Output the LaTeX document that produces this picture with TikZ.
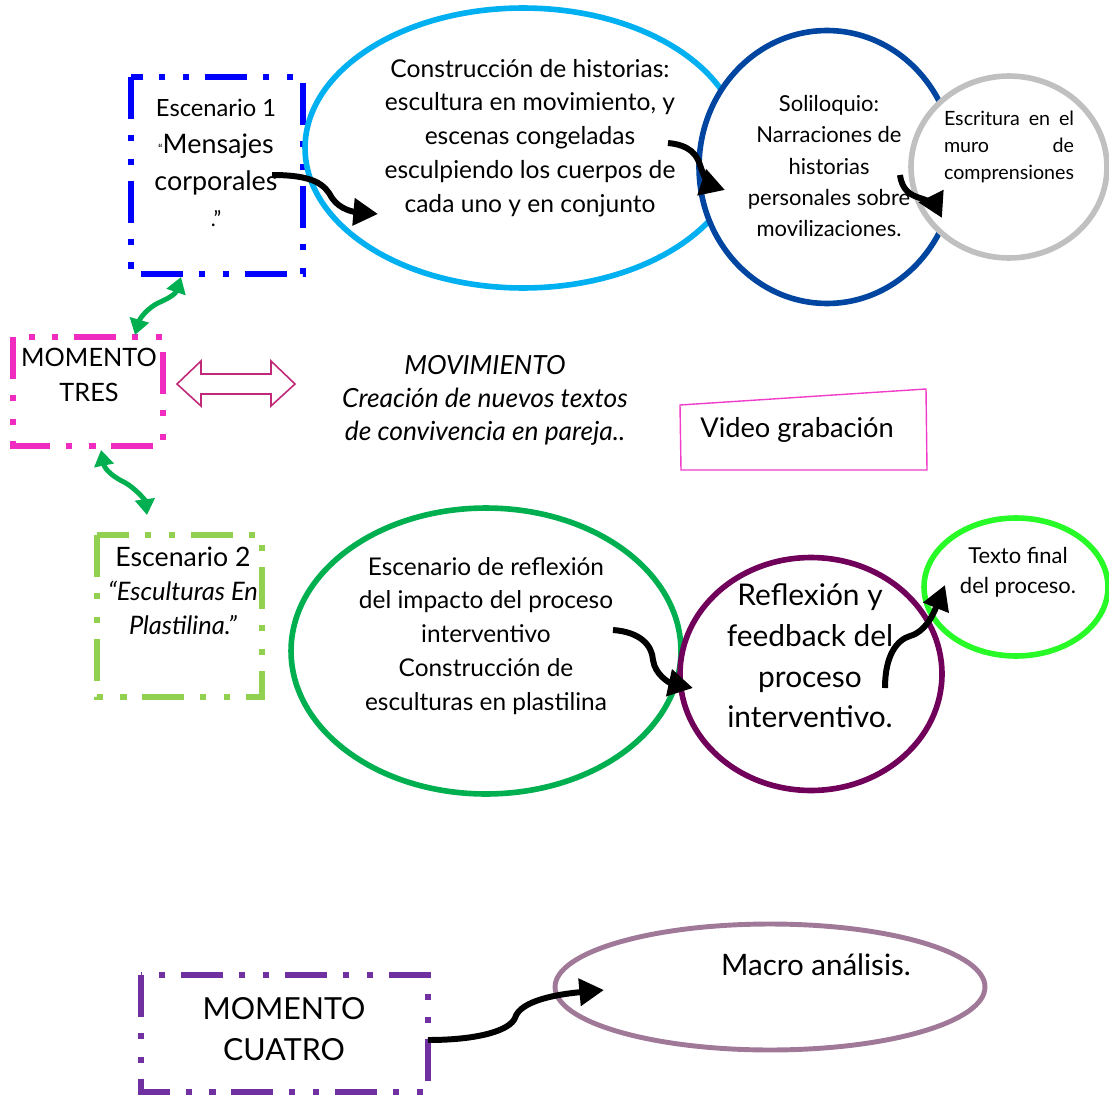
\documentclass[tikz,border=0pt]{standalone}
\usepackage{fontspec}
\setmainfont{Lato}
\usetikzlibrary{shapes.geometric,arrows.meta}

\definecolor{boxblue}{RGB}{0,0,255}
\definecolor{skyline}{RGB}{0,176,240}
\definecolor{deepblue}{RGB}{0,70,160}
\definecolor{ringgray}{RGB}{192,192,192}
\definecolor{boxpink}{RGB}{240,44,192}
\definecolor{linkrose}{RGB}{192,40,120}
\definecolor{arrowgreen}{RGB}{0,176,80}
\definecolor{boxlime}{RGB}{146,208,80}
\definecolor{ringgreen}{RGB}{0,176,80}
\definecolor{ringplum}{RGB}{112,0,90}
\definecolor{ringneon}{RGB}{40,250,40}
\definecolor{boxpurple}{RGB}{112,48,160}
\definecolor{ringmauve}{RGB}{160,120,152}
\definecolor{videopink}{RGB}{240,60,200}

\begin{document}
\begin{tikzpicture}[x=0.02cm,y=-0.02cm,
    dashbox/.style={draw=#1, line width=3.4pt, dash pattern=on 24pt off 9pt on 3.5pt off 10pt on 3.5pt off 9pt},
    ring/.style={draw=#1, line width=3.2pt, ellipse, fill=white, inner sep=0pt},
    txt/.style={align=center, inner sep=0pt},
    flow/.style={-{Triangle[length=14pt,width=15pt]}, line width=3.4pt},
    swing/.style={{Triangle[length=9pt,width=11pt]}-{Triangle[length=9pt,width=11pt]}, line width=2.8pt, draw=arrowgreen}]
  \useasboundingbox (0,0) rectangle (1109,1095);

  % boxes
  \draw[dashbox=boxblue] (131,77) rectangle (303,274);
  \draw[dashbox=boxpink] (13,337) rectangle (163,446);
  \draw[dashbox=boxlime] (97,535) rectangle (262,697);
  \draw[dashbox=boxpurple] (141,975) rectangle (428,1092);
  \draw[videopink, line width=0.8pt] (680,405) -- (926,389) -- (927,470) -- (681,470) -- cycle;

  % rings
  \node[ring=skyline, minimum width=8.72cm, minimum height=5.6cm] (historiasring) at (523,148) {};
  \node[ring=deepblue, minimum width=5.12cm, minimum height=5.46cm] (soliloquioring) at (827,167) {};
  \node[ring=ringgray, minimum width=3.92cm, minimum height=3.64cm] (muroring) at (1009,167) {};
  \node[ring=ringgreen, minimum width=7.8cm, minimum height=5.72cm] (reflexionring) at (486,651) {};
  \node[ring=ringplum, minimum width=5.24cm, minimum height=4.66cm] (feedbackring) at (811,674) {};
  \node[ring=ringneon, minimum width=3.68cm, minimum height=2.76cm] (finalring) at (1016,587) {};
  \node[ring=ringmauve, minimum width=8.6cm, minimum height=2.52cm, line width=2.8pt] (macroring) at (770,987) {};

  % double arrow
  \draw[linkrose, line width=0.9pt, fill=white] (177,384) -- (201,361) -- (201,374) -- (271,374) -- (271,361)
     -- (295,384) -- (271,406) -- (271,394) -- (201,394) -- (201,406) -- cycle;

  % texts
  \node[txt, font=\fontsize{13.5}{21}\selectfont] (esc1) at (216,163)
     {Escenario 1\\{\fontsize{15.3}{21}\selectfont{\scriptsize``}Mensajes}\\{\fontsize{15.3}{21}\selectfont corporales}\\{\fontsize{12}{21}\selectfont .''}};
  \node[txt, font=\fontsize{14}{19.3}\selectfont] (historias) at (530,138)
     {Construcción de historias:\\escultura en movimiento, y\\escenas congeladas\\esculpiendo los cuerpos de\\cada uno y en conjunto};
  \node[txt, font=\fontsize{12.5}{17.7}\selectfont] (soliloquio) at (829,166)
     {Soliloquio:\\Narraciones de\\historias\\personales sobre\\movilizaciones.};
  \node[txt, align=left, text width=74pt, font=\fontsize{11.2}{15.3}\selectfont] (muro) at (1009,147)
     {Escritura\hfill en\hfill el\\muro\hfill de\\comprensiones};
  \node[txt, font=\fontsize{14.4}{20}\selectfont] (tres) at (89,375) {MOMENTO\\TRES};
  \node[txt, font=\itshape\fontsize{15}{18.7}\selectfont] (movimiento) at (485,400)
     {MOVIMIENTO\\Creación de nuevos textos\\de convivencia en pareja..};
  \node[txt, font=\fontsize{15.5}{20}\selectfont] (video) at (797,430) {Video grabación};
  \node[txt, font=\fontsize{15.2}{19.5}\selectfont] (esc2) at (183,591)
     {Escenario 2\\{\itshape\fontsize{14.5}{19.5}\selectfont ``Esculturas En}\\{\itshape\fontsize{14.5}{19.5}\selectfont Plastilina.''}};
  \node[txt, font=\fontsize{13.9}{19.3}\selectfont] (reflexion) at (486,636)
     {Escenario de reflexión\\del impacto del proceso\\interventivo\\Construcción de\\esculturas en plastilina};
  \node[txt, font=\fontsize{17}{23.2}\selectfont] (feedback) at (810,656)
     {Reflexión y\\feedback del\\proceso\\interventivo.};
  \node[txt, font=\fontsize{12.5}{17}\selectfont] (textofinal) at (1018,572) {Texto final\\del proceso.};
  \node[txt, font=\fontsize{16.8}{20}\selectfont] (macro) at (816,965) {Macro análisis.};
  \node[txt, font=\fontsize{17.3}{23.2}\selectfont] (cuatro) at (284,1029) {MOMENTO\\CUATRO};

  % connector ends
  \coordinate (e1a) at (272,175);
  \coordinate (e1b) at (378,214);
  \coordinate (h1a) at (668,143);
  \coordinate (h1b) at (725,190);
  \coordinate (s1a) at (900,175);
  \coordinate (s1b) at (942,218);
  \coordinate (r1a) at (613,630);
  \coordinate (r1b) at (693,688);
  \coordinate (f1a) at (885,688);
  \coordinate (f1b) at (945,585);
  \coordinate (c1a) at (428,1040);
  \coordinate (c1b) at (604,990);
  \coordinate (g1a) at (181,277);
  \coordinate (g1b) at (135,335);
  \coordinate (g2a) at (101,450);
  \coordinate (g2b) at (147,515);

  % arrows
  \draw[flow] (e1a) .. controls (315,175) and (325,185) .. (332,198) .. controls (340,210) and (355,212) .. (e1b);
  \draw[flow] (h1a) .. controls (690,145) and (697,155) .. (700,165) .. controls (704,178) and (710,185) .. (h1b);
  \draw[flow] (s1a) .. controls (902,190) and (910,195) .. (920,198) .. controls (930,201) and (936,206) .. (s1b);
  \draw[flow] (r1a) .. controls (640,632) and (652,645) .. (653,660) .. controls (655,675) and (670,683) .. (r1b);
  \draw[flow] (f1a) .. controls (885,655) and (897,640) .. (910,636) .. controls (925,632) and (933,615) .. (f1b);
  \draw[flow] (c1a) .. controls (480,1040) and (510,1030) .. (515,1018) .. controls (520,1000) and (560,994) .. (c1b);
  \draw[swing] (g1a) .. controls (175,295) and (165,300) .. (158,303) .. controls (148,308) and (140,318) .. (g1b);
  \draw[swing] (g2a) .. controls (105,470) and (115,478) .. (124,482) .. controls (135,488) and (145,500) .. (g2b);
\end{tikzpicture}
\end{document}
